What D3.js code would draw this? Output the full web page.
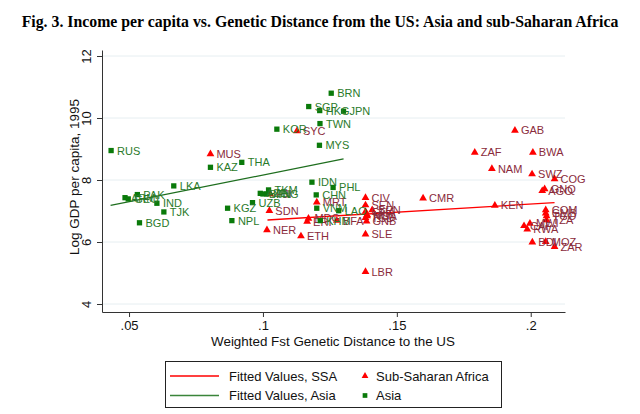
<!DOCTYPE html>
<html>
<head>
<meta charset="utf-8">
<script src="https://cdn.jsdelivr.net/npm/d3@7"></script>
<style>
  body { margin: 0; background: #fff; }
  text { font-family: "Liberation Sans", Arial, sans-serif; }
</style>
</head>
<body>
<div id="chart"></div>
<script>
// Asia: code, genetic distance, log GDP per capita
var asiaCodes = ['RUS', 'ARM', 'GEO', 'PAK', 'BGD', 'IND', 'TJK', 'LKA', 'KAZ', 'KGZ', 'NPL', 'THA', 'UZB',
  'AZE', 'BTN', 'MNG', 'TKM', 'KOR', 'SGP', 'IDN', 'CHN', 'VNM', 'MYS', 'HKG', 'TWN', 'KHM', 'BRN', 'PHL', 'LAO', 'JPN'];
var asiaDist = [0.0433, 0.0485, 0.0497, 0.0531, 0.0539, 0.0604, 0.0630, 0.0667, 0.0804, 0.0868, 0.0884, 0.0921, 0.0961,
  0.0990, 0.1000, 0.1015, 0.1021, 0.1052, 0.1171, 0.1183, 0.1199, 0.1201, 0.1211, 0.1212, 0.1213, 0.1214, 0.1255, 0.1262, 0.1283, 0.1301];
var asiaGdp = [8.95, 7.43, 7.39, 7.53, 6.62, 7.25, 6.97, 7.81, 8.41, 7.09, 6.69, 8.57, 7.27,
  7.57, 7.55, 7.55, 7.68, 9.64, 10.37, 7.93, 7.52, 7.09, 9.12, 10.24, 9.82, 6.69, 10.80, 7.76, 7.01, 10.22];

// Sub-Saharan Africa (and others drawn with the same marker)
var ssaCodes = ['MUS', 'NER', 'SDN', 'FJI', 'SYC', 'ETH', 'ERI', 'MDG', 'MRT', 'BFA', 'CIV', 'SEN', 'BEN', 'GHA',
  'MLI', 'NGA', 'TCD', 'GNB', 'SLE', 'LBR', 'CMR', 'ZAF', 'NAM', 'KEN', 'GAB', 'CAF', 'RWA', 'MWI', 'SWZ', 'BDI',
  'BWA', 'AGO', 'GNQ', 'COM', 'GMB', 'MOZ', 'TGO', 'TZA', 'COG', 'ZAR'];
var ssaDist = [0.0804, 0.1015, 0.1024, 0.1027, 0.1127, 0.1142, 0.1165, 0.1170, 0.1201, 0.1276, 0.1383, 0.1383, 0.1408, 0.1383,
  0.1389, 0.1389, 0.1383, 0.1387, 0.1383, 0.1383, 0.1598, 0.1791, 0.1855, 0.1866, 0.1941, 0.1975, 0.1987, 0.1997, 0.2005, 0.2006,
  0.2008, 0.2043, 0.2052, 0.2056, 0.2056, 0.2056, 0.2059, 0.2059, 0.2089, 0.2089];
var ssaGdp = [8.84, 6.39, 7.01, 7.55, 9.58, 6.19, 6.66, 6.76, 7.28, 6.69, 7.43, 7.19, 7.03, 6.98,
  6.88, 6.84, 6.78, 6.67, 6.25, 5.04, 7.41, 8.89, 8.36, 7.18, 9.60, 6.52, 6.41, 6.60, 8.19, 5.99,
  8.89, 7.65, 7.71, 7.03, 6.93, 6.01, 6.84, 6.71, 8.03, 5.85];

// fitted lines (end points)
var ssaFitX = [0.1017, 0.2089];
var ssaFitY = [6.71, 7.27];
var asiaFitX = [0.0431, 0.1301];
var asiaFitY = [7.18, 8.68];

var xTicks = [0.05, 0.1, 0.15, 0.2];
var yTicks = [4, 6, 8, 10, 12];

var COLORS = {
  red: '#ff0000',
  ssaLabel: '#8a2b3b',
  green: '#0a7a0a',
  asiaLabel: '#2a7a2a',
  fitGreen: '#1e6e1e',
  grid: '#e6eef1',
  axis: '#333',
};

var width = 640;
var height = 414;

var svg = d3.select('#chart')
  .append('svg')
  .attr('width', width)
  .attr('height', height);

var x = d3.scaleLinear().domain([0.0399, 0.2128]).range([102, 565]);
var y = d3.scaleLinear().domain([3.742, 12.194]).range([312, 50]);

// title
svg.append('text')
  .attr('x', 320)
  .attr('y', 27)
  .attr('text-anchor', 'middle')
  .style('font-family', '"Liberation Serif", "Times New Roman", serif')
  .style('font-weight', 'bold')
  .style('font-size', '15.8px')
  .text('Fig. 3. Income per capita vs. Genetic Distance from the US: Asia and sub-Saharan Africa');

// grid lines
svg.append('g')
  .selectAll('line')
  .data(yTicks)
  .enter()
  .append('line')
  .attr('x1', x.range()[0])
  .attr('x2', x.range()[1])
  .attr('y1', d => y(d))
  .attr('y2', d => y(d))
  .attr('stroke', COLORS.grid)
  .attr('stroke-width', 1);

// y axis
var yAxis = svg.append('g')
  .attr('transform', 'translate(102,0)')
  .call(d3.axisLeft(y).tickValues(yTicks).tickSize(5).tickSizeOuter(0));
yAxis.selectAll('text')
  .attr('x', null)
  .attr('dy', null)
  .attr('text-anchor', 'middle')
  .attr('transform', 'translate(-11,0) rotate(-90)')
  .style('font-size', '13px')
  .attr('fill', '#111');

// x axis
var xAxis = svg.append('g')
  .attr('transform', 'translate(0,312)')
  .call(d3.axisBottom(x).tickValues(xTicks).tickSize(5).tickSizeOuter(0)
    .tickFormat(d => String(d).replace(/^0/, '')));
xAxis.selectAll('text')
  .attr('y', 9)
  .style('font-size', '13px')
  .attr('fill', '#111');

svg.selectAll('.domain, .tick line')
  .attr('stroke', COLORS.axis);

// axis titles
svg.append('text')
  .attr('transform', 'translate(79,177) rotate(-90)')
  .attr('text-anchor', 'middle')
  .style('font-size', '13.5px')
  .attr('fill', '#111')
  .text('Log GDP per capita, 1995');

svg.append('text')
  .attr('x', 333)
  .attr('y', 346)
  .attr('text-anchor', 'middle')
  .style('font-size', '13.4px')
  .attr('fill', '#111')
  .text('Weighted Fst Genetic Distance to the US');

var asia = asiaCodes.map((c, i) => ({ code: c, dist: asiaDist[i], gdp: asiaGdp[i] }));
var ssa = ssaCodes.map((c, i) => ({ code: c, dist: ssaDist[i], gdp: ssaGdp[i] }));

var line = d3.line().x(d => x(d[0])).y(d => y(d[1]));
var tri = d3.symbol().type(d3.symbolTriangle).size(26);
var sq = d3.symbol().type(d3.symbolSquare).size(28);

var plot = svg.append('g');

// fitted SSA
plot.append('path')
  .attr('d', line(d3.zip(ssaFitX, ssaFitY)))
  .attr('fill', 'none')
  .attr('stroke', COLORS.red)
  .attr('stroke-width', 1.3);

// SSA markers + labels
var ssaG = plot.append('g');
ssaG.selectAll('path')
  .data(ssa)
  .enter()
  .append('path')
  .attr('d', tri)
  .attr('transform', d => `translate(${x(d.dist)},${y(d.gdp)})`)
  .attr('fill', COLORS.red);
ssaG.selectAll('text')
  .data(ssa)
  .enter()
  .append('text')
  .attr('x', d => x(d.dist) + 6)
  .attr('y', d => y(d.gdp))
  .attr('dy', '0.36em')
  .style('font-size', '11px')
  .attr('fill', COLORS.ssaLabel)
  .text(d => d.code);

// fitted Asia
plot.append('path')
  .attr('d', line(d3.zip(asiaFitX, asiaFitY)))
  .attr('fill', 'none')
  .attr('stroke', COLORS.fitGreen)
  .attr('stroke-width', 1.3);

// Asia markers + labels
var asiaG = plot.append('g');
asiaG.selectAll('path')
  .data(asia)
  .enter()
  .append('path')
  .attr('d', sq)
  .attr('transform', d => `translate(${x(d.dist)},${y(d.gdp)})`)
  .attr('fill', COLORS.green);
asiaG.selectAll('text')
  .data(asia)
  .enter()
  .append('text')
  .attr('x', d => x(d.dist) + 6)
  .attr('y', d => y(d.gdp))
  .attr('dy', '0.36em')
  .style('font-size', '11px')
  .attr('fill', COLORS.asiaLabel)
  .text(d => d.code);

// legend
var legendItems = [
  { label: 'Fitted Values, SSA', kind: 'line', color: COLORS.red, col: 0, row: 0 },
  { label: 'Sub-Saharan Africa', kind: 'tri', color: COLORS.red, col: 1, row: 0 },
  { label: 'Fitted Values, Asia', kind: 'line', color: '#3a853a', col: 0, row: 1 },
  { label: 'Asia', kind: 'sq', color: COLORS.green, col: 1, row: 1 },
];

var legend = svg.append('g');
legend.append('rect')
  .attr('x', 165.5)
  .attr('y', 361.5)
  .attr('width', 336)
  .attr('height', 46)
  .attr('fill', '#fff')
  .attr('stroke', '#222')
  .attr('stroke-width', 1);

var rowY = [376, 395.5];
var item = legend.selectAll('.item')
  .data(legendItems)
  .enter()
  .append('g')
  .attr('transform', d => `translate(${d.col ? 365 : 195},${rowY[d.row]})`);

item.filter(d => d.kind == 'line')
  .append('line')
  .attr('x1', -25)
  .attr('x2', 24)
  .attr('stroke', d => d.color)
  .attr('stroke-width', 1.5);
item.filter(d => d.kind == 'tri')
  .append('path')
  .attr('d', d3.symbol().type(d3.symbolTriangle).size(20))
  .attr('fill', d => d.color);
item.filter(d => d.kind == 'sq')
  .append('path')
  .attr('d', d3.symbol().type(d3.symbolSquare).size(22))
  .attr('fill', d => d.color);

item.append('text')
  .attr('x', d => d.kind == 'line' ? 34 : 11)
  .attr('dy', '0.36em')
  .style('font-size', '13px')
  .attr('fill', '#111')
  .text(d => d.label);
</script>
</body>
</html>
